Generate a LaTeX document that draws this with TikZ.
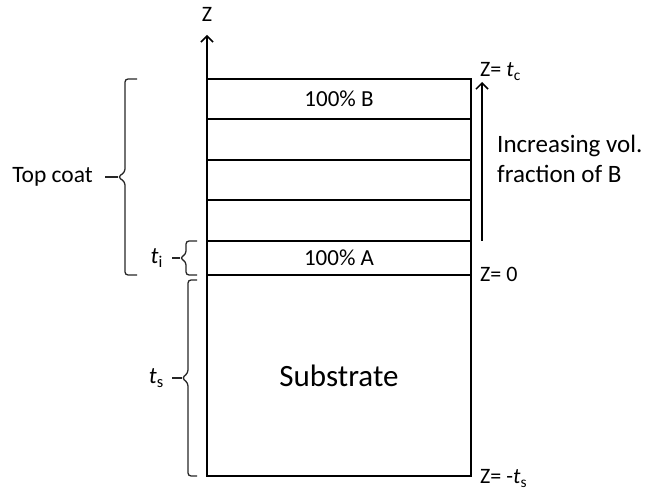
\documentclass[tikz,border=0pt]{standalone}
\usepackage{fontspec}
\setmainfont{Carlito}
\usetikzlibrary{arrows.meta, positioning}
\tikzstyle{layer} = [rectangle, draw, line width=1.5pt, inner sep=0pt, outer sep=0pt,
  minimum width=264pt, font=\fontsize{23}{27}\selectfont]
\tikzstyle{lbl} = [inner sep=0pt, font=\fontsize{23.5}{28}\selectfont]
\tikzstyle{zlbl} = [inner sep=0pt, font=\fontsize{22}{26}\selectfont]
\tikzstyle{arrow} = [-{Straight Barb[length=6pt, width=12pt]}, line width=1.5pt]
\tikzstyle{bracket} = [rounded corners=3pt, line width=1.3pt, color=black!85]
\tikzstyle{tick} = [line width=1.3pt, color=black!85]

\begin{document}
\begin{tikzpicture}[x=1pt, y=-1pt]
  \useasboundingbox (0,0) rectangle (646,494);

  % Layers of the coat and the substrate
  \node[layer, minimum height=40pt, anchor=north west] (lB) at (207,79) {100\% B};
  \node[layer, minimum height=41pt, below=0pt of lB] (l2) {};
  \node[layer, minimum height=40pt, below=0pt of l2] (l3) {};
  \node[layer, minimum height=41pt, below=0pt of l3] (l4) {};
  \node[layer, minimum height=34pt, below=0pt of l4] (lA) {100\% A};
  \node[layer, minimum height=201pt, below=0pt of lA, font=\fontsize{31}{36}\selectfont] (sub) {Substrate};

  % Z axis
  \coordinate (ztop) at (207,35);
  \draw[arrow] (sub.south west) -- (ztop);
  \node[zlbl] (zname) at (207,14) {Z};

  % Levels on the right
  \node[zlbl, anchor=base west] (ztc) at ([xshift=9pt, yshift=2pt]lB.north east) {Z= \textit{t}\textsubscript{c}};
  \node[zlbl, anchor=base west] (zzero) at ([xshift=9pt, yshift=-7pt]lA.south east) {Z= 0};
  \node[zlbl, anchor=base west] (zts) at ([xshift=9pt, yshift=-8pt]sub.south east) {Z= -\textit{t}\textsubscript{s}};

  % Volume fraction arrow
  \coordinate (vfbot) at ([xshift=11pt]lA.north east);
  \coordinate (vftop) at ([xshift=11pt, yshift=-3pt]lB.north east);
  \draw[arrow] (vfbot) -- (vftop);
  \node[lbl, align=left, anchor=west, font=\fontsize{25}{30}\selectfont] (vf) at (497,159)
    {Increasing vol.\\fraction of B};

  % Braces on the left
  \draw[bracket] (137,79) -- (125,79) -- (125,172) -- (118,177) -- (125,182) -- (125,275) -- (137,275);
  \coordinate (tctip) at (118,177);
  \node[lbl, anchor=east] (tc) at (93,177) {Top coat};
  \draw[tick] ([xshift=12pt]tc.east) -- (tctip);

  \draw[bracket] (197,241) -- (186,241) -- (186,254) -- (180,258) -- (186,262) -- (186,275) -- (197,275);
  \coordinate (titip) at (180,258);
  \node[lbl, anchor=east] (ti) at (163,258) {\textit{t}\textsubscript{i}};
  \draw[tick] ([xshift=9pt]ti.east) -- (titip);

  \draw[bracket] (197,280) -- (188,280) -- (188,373) -- (182,378) -- (188,383) -- (188,476) -- (197,476);
  \coordinate (tstip) at (182,378);
  \node[lbl, anchor=east] (ts) at (164,378) {\textit{t}\textsubscript{s}};
  \draw[tick] ([xshift=8pt]ts.east) -- (tstip);

\end{tikzpicture}
\end{document}
